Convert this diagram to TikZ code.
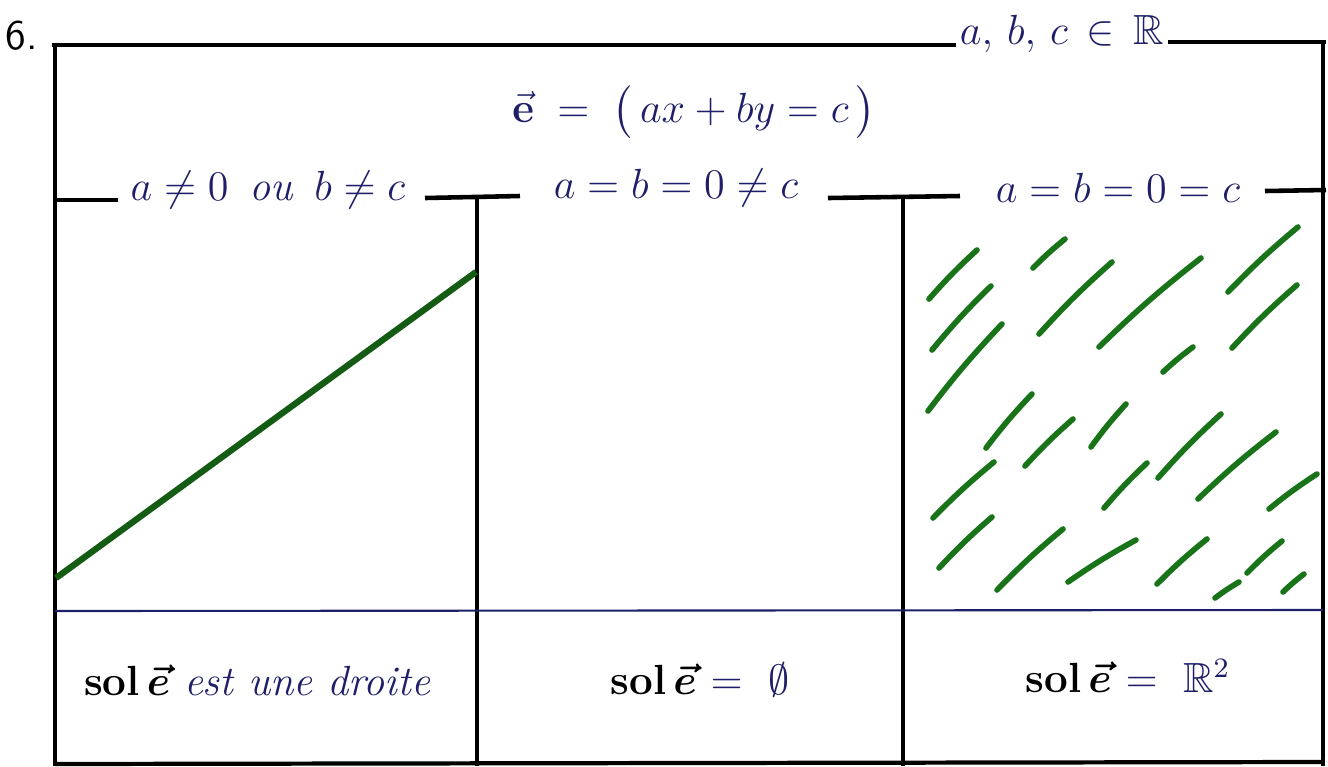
\documentclass[tikz,border=0pt]{standalone}
\usepackage{amsmath,amssymb}
\definecolor{ink}{RGB}{30,30,105}
\definecolor{grn}{RGB}{25,115,25}
\tikzset{
  frame/.style={line width=0.9pt, black},
  rule/.style={line width=1.3pt, black},
  thinrule/.style={line width=0.6pt, ink},
  lab/.style={text=ink, font=\fontsize{12}{14}\selectfont, inner sep=1pt},
  sol/.style={text=ink, font=\fontsize{12}{14}\selectfont, inner sep=1pt},
  hatch/.style={grn, line width=1.6pt, line cap=round},
}
\begin{document}
\begin{tikzpicture}[x=0.1mm, y=-0.1mm]
\useasboundingbox (0,0) rectangle (1328,766);
% labels
\node[lab, text=black, font=\fontsize{12}{14}\selectfont\sffamily] (num) at (22,36) {6.};
\node[lab] (abc) at (1062,34) {$a,\,b,\,c\,\in\,\mathbb{R}$};
\node[lab, font=\fontsize{12.5}{15}\selectfont] (eq) at (694,112) {$\vec{\mathbf e}\;=\;\bigl(\,a x + b y = c\,\bigr)$};
\node[lab] (h1) at (268,190) {$a \neq 0$\, \textit{ou}\, $b \neq c$};
\node[lab] (h2) at (676,188) {$a = b = 0 \neq c$};
\node[lab] (h3) at (1118,188) {$a = b = 0 = c$};
% frame lines
\draw[rule] (52,45) -- (abc.west |- 0,45);
\draw[rule] (abc.east |- 0,42) -- (1326,42);
\draw[frame] (55,45) -- (55,766);
\draw[frame] (1323,42) -- (1323,766);
\draw[rule] (55,200) -- (118,200);
\draw[rule] (425,198) -- (520,196);
\draw[rule] (828,198) -- (960,196);
\draw[rule] (1265,191) -- (1326,190);
\draw[frame] (477,197) -- (477,766);
\draw[frame] (903,198) -- (903,766);
\draw[thinrule] (55,611) -- (1323,610);
\draw[line width=1.2pt] (55,764) -- (1323,762);
% straight line solution
\coordinate (l0) at (56,578);
\coordinate (l1) at (476,272);
\draw[grn!80!black, line width=1.8pt] (l0) -- (l1);
% hatching
\foreach \a/\b/\c/\d in {
929/299/977/250, 1033/268/1065/239, 1228/292/1298/227,
932/350/991/286, 1039/334/1112/262, 1099/347/1201/258,
1232/348/1297/285, 928/411/1002/324, 1163/372/1193/347,
986/448/1032/394, 1025/466/1073/419, 1091/447/1126/404,
1158/478/1221/414, 1198/499/1276/432, 933/518/994/462,
1104/508/1147/463, 1269/509/1317/474, 939/568/992/517,
997/590/1063/529, 1068/582/1136/540, 1157/584/1207/539,
1247/573/1282/541, 1215/598/1239/582, 1283/592/1304/574}
  \draw[hatch] (\a,\b) to[bend left=3] (\c,\d);
% bottom row
\node[sol, anchor=west] (s1) at (80,680) {\textcolor{black}{\textbf{sol}\,$\boldsymbol{\vec e}$}\ \textit{est une droite}};
\node[sol] (s2) at (700,680) {\textcolor{black}{\textbf{sol}\,$\boldsymbol{\vec e}$}\ $=\ \emptyset$};
\node[sol] (s3) at (1128,676) {\textcolor{black}{\textbf{sol}\,$\boldsymbol{\vec e}$}\ $=\ \mathbb{R}^2$};
\end{tikzpicture}
\end{document}
